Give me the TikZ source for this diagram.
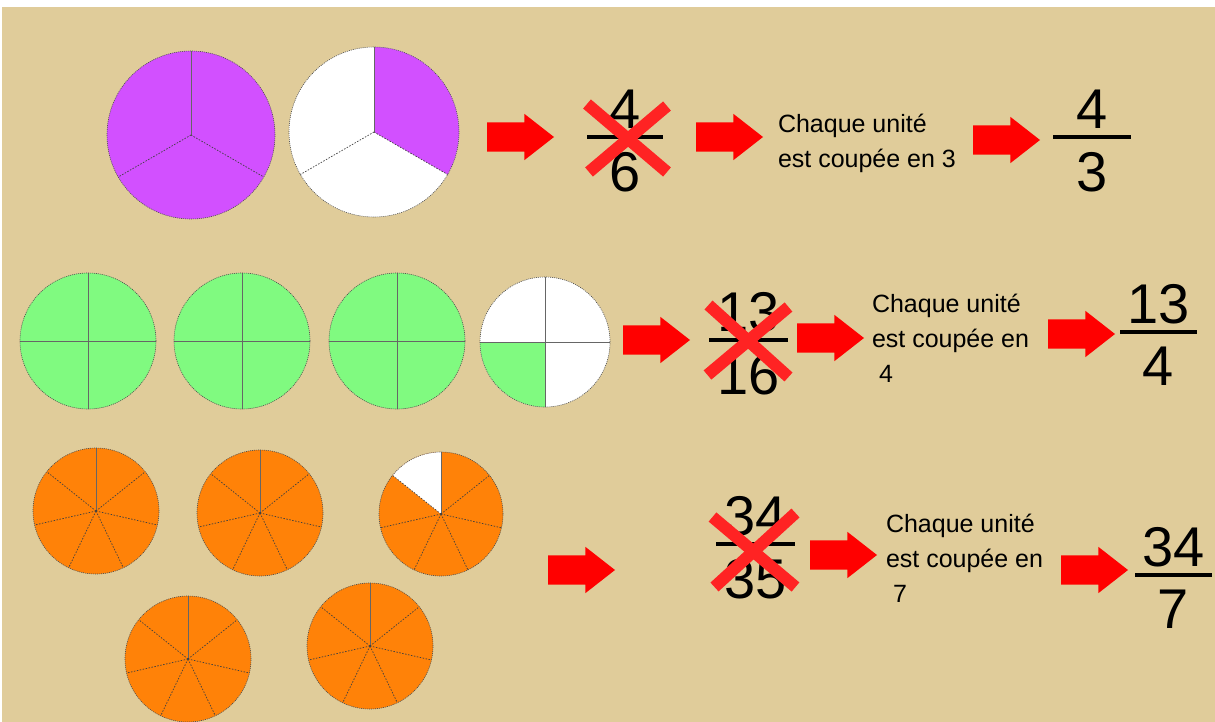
\documentclass[tikz,border=0pt]{standalone}
\usepackage{fontspec}
\setmainfont{Liberation Sans}
\usetikzlibrary{shapes.arrows, calc, positioning}

\definecolor{parchment}{RGB}{224,204,154}
\definecolor{pieviolet}{RGB}{210,80,255}
\definecolor{piegreen}{RGB}{128,250,128}
\definecolor{pieorange}{RGB}{255,130,8}
\definecolor{crossred}{RGB}{255,35,35}

\begin{document}
\begin{tikzpicture}[x=1pt, y=-1pt, node distance=6pt, outer sep=0pt]

\tikzstyle{redarrow}=[single arrow, fill=red, anchor=tip, inner xsep=0pt, inner ysep=14.5pt, minimum height=67pt, single arrow head extend=8.5pt, single arrow tip angle=76]
\tikzstyle{fracbar}=[rectangle, fill=black, inner sep=0pt, minimum height=4pt]
\tikzstyle{bignum}=[inner sep=0pt, font=\fontsize{56}{60}\selectfont]
\tikzstyle{explain}=[anchor=base west, inner sep=0pt, align=left, font=\fontsize{25}{35}\selectfont]
\tikzstyle{crossline}=[draw=crossred, line width=12pt]
\tikzstyle{rim}=[draw=black!70, line width=0.6pt, dash pattern=on 1pt off 1pt]
\tikzstyle{piecut}=[draw=black!60, line width=0.8pt]
\tikzstyle{dashcut}=[draw=black!75, line width=0.7pt, dash pattern=on 1.5pt off 1.5pt]

\useasboundingbox (0,0) rectangle (1215,722);
\fill[white] (0,0) rectangle (1215,722);
\fill[parchment] (2,7) rectangle (1215,722);

% thirds
\fill[pieviolet] (191,135) circle (84pt);
\draw[piecut] (191,135) -- +(90:84pt);
\draw[dashcut] (191,135) -- +(210:84pt) (191,135) -- +(330:84pt);
\draw[rim] (191,135) circle (84pt);

\fill[white] (374,132) circle (85pt);
\fill[pieviolet] (374,132) -- +(90:85pt) arc[start angle=90, end angle=-30, radius=85pt] -- cycle;
\draw[piecut] (374,132) -- +(90:85pt);
\draw[dashcut] (374,132) -- +(210:85pt) (374,132) -- +(330:85pt);
\draw[rim] (374,132) circle (85pt);

% quarters
\foreach \cx in {88,242,397}{
  \fill[piegreen] (\cx,341) circle (68pt);
  \draw[piecut] (\cx,341) +(-68pt,0) -- +(68pt,0) +(0,-68pt) -- +(0,68pt);
  \draw[rim] (\cx,341) circle (68pt);
}
\fill[white] (545,342) circle (65pt);
\fill[piegreen] (545,342) -- +(180:65pt) arc[start angle=180, end angle=270, radius=65pt] -- cycle;
\draw[piecut] (545,342) +(-65pt,0) -- +(65pt,0) +(0,-65pt) -- +(0,65pt);
\draw[rim] (545,342) circle (65pt);

% sevenths
\foreach \cx/\cy in {96/511, 260/513, 188/659, 370/646}{
  \fill[pieorange] (\cx,\cy) circle (63pt);
  \draw[piecut] (\cx,\cy) -- +(90:63pt);
  \foreach \k in {1,...,6}
    \draw[dashcut] (\cx,\cy) -- +({90-\k*360/7}:63pt);
  \draw[rim] (\cx,\cy) circle (63pt);
}
\fill[pieorange] (441,514) circle (62pt);
\fill[white] (441,514) -- +(90:62pt) arc[start angle=90, end angle={90+360/7}, radius=62pt] -- cycle;
\draw[piecut] (441,514) -- +(90:62pt);
\foreach \k in {1,...,6}
  \draw[dashcut] (441,514) -- +({90-\k*360/7}:62pt);
\draw[rim] (441,514) circle (62pt);

% arrows (placed by their tips)
\node[redarrow] (a1) at (554,137) {};
\node[redarrow] (a2) at (763,137) {};
\node[redarrow] (a3) at (1040,140) {};
\node[redarrow] (b1) at (690,340) {};
\node[redarrow] (b2) at (864,338) {};
\node[redarrow] (b3) at (1115,334) {};
\node[redarrow] (c1) at (615,570) {};
\node[redarrow] (c2) at (877,555) {};
\node[redarrow] (c3) at (1128,570) {};

% crossed fractions
\node[fracbar, minimum width=76pt] (x1) at (625,137) {};
\node[bignum, above=6pt of x1] (x1n) {4};
\node[bignum, below=13pt of x1] (x1d) {6};
\node[fracbar, minimum width=79pt] (x2) at (748.5,340) {};
\node[bignum, above=6pt of x2] (x2n) {13};
\node[bignum, below=13pt of x2] (x2d) {16};
\node[fracbar, minimum width=79pt] (x3) at (755.5,544) {};
\node[bignum, above=6pt of x3] (x3n) {34};
\node[bignum, below=13pt of x3] (x3d) {35};

\draw[crossline] ($(x1)+(-38,-33)$) -- ($(x1)+(42,35)$);
\draw[crossline] ($(x1)+(-36,35)$) -- ($(x1)+(42,-31)$);
\draw[crossline] ($(x2)+(-40,-35)$) -- ($(x2)+(40,37)$);
\draw[crossline] ($(x2)+(-41,35)$) -- ($(x2)+(40,-33)$);
\draw[crossline] ($(x3)+(-43,-27)$) -- ($(x3)+(40,43)$);
\draw[crossline] ($(x3)+(-41,43)$) -- ($(x3)+(40,-31)$);

% explanations (base = last line)
\node[explain] (t1) at (778,168) {Chaque unité\\est coupée en 3};
\node[explain] (t2) at (872,382) {Chaque unité\\est coupée en\\\hspace*{7pt}4};
\node[explain] (t3) at (886,602) {Chaque unité\\est coupée en\\\hspace*{7pt}7};

% results
\node[fracbar, minimum width=78pt] (f1) at (1092,137) {};
\node[bignum, above=6pt of f1] (f1n) {4};
\node[bignum, below=13pt of f1] (f1d) {3};
\node[fracbar, minimum width=77pt] (f2) at (1158.5,332) {};
\node[bignum, above=6pt of f2] (f2n) {13};
\node[bignum, below=13pt of f2] (f2d) {4};
\node[fracbar, minimum width=77pt] (f3) at (1173.5,575) {};
\node[bignum, above=6pt of f3] (f3n) {34};
\node[bignum, below=13pt of f3] (f3d) {7};
\end{tikzpicture}
\end{document}
